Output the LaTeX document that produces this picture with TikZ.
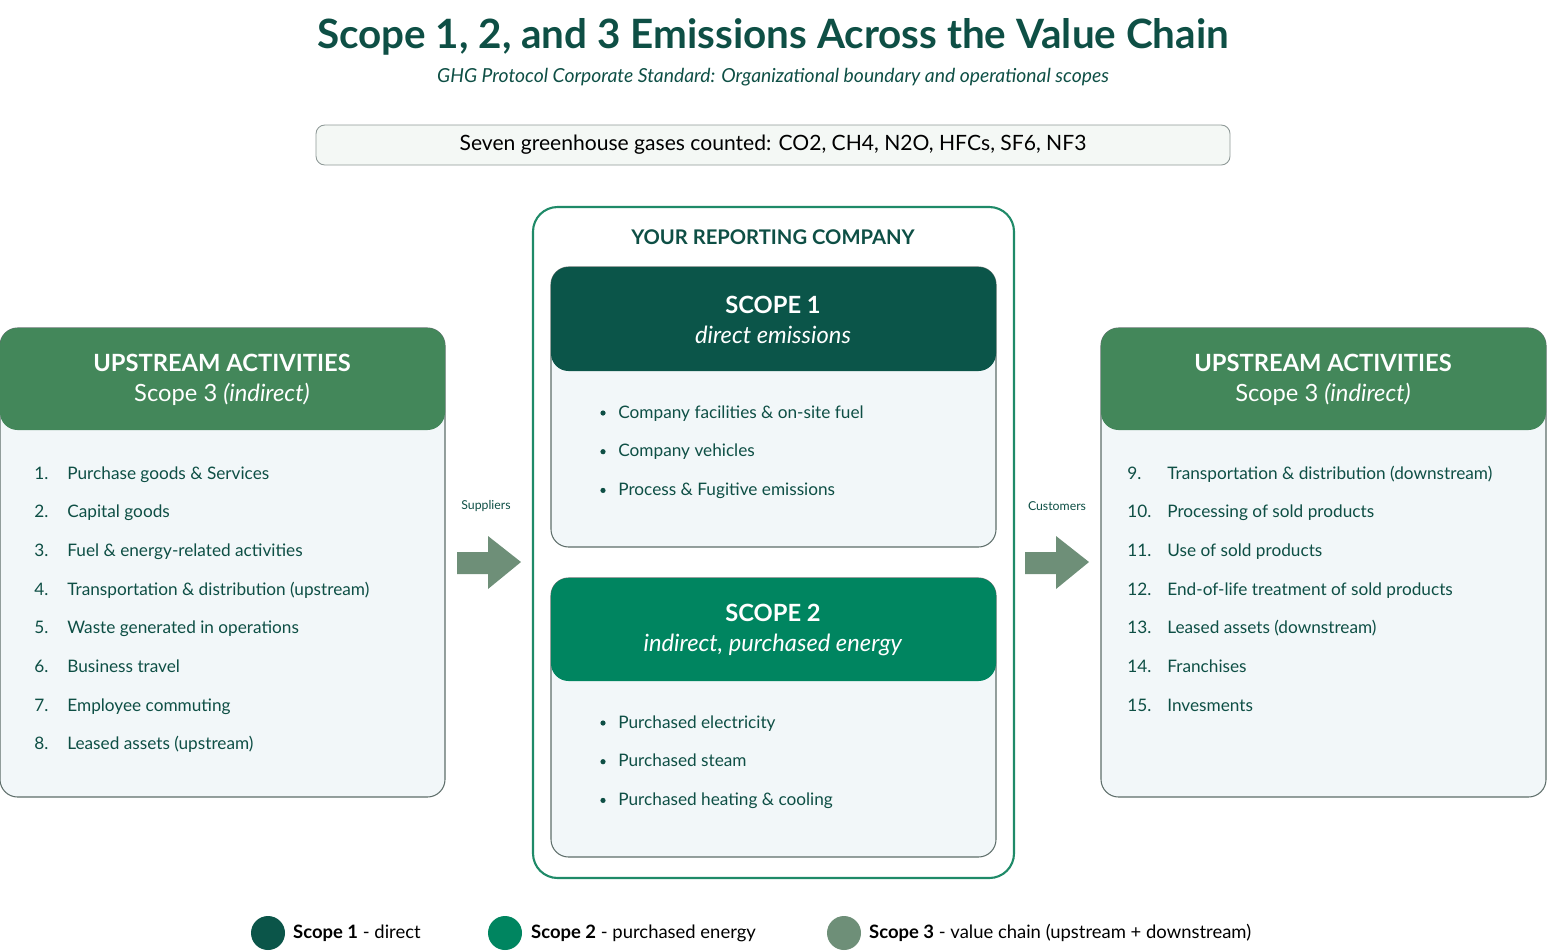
\documentclass[tikz,border=0pt]{standalone}
\usepackage{fontspec}
\setmainfont{Lato}
\usetikzlibrary{positioning,calc}
\definecolor{ink}{HTML}{0E4F45}
\definecolor{hdrthree}{HTML}{43875A}
\definecolor{hdrone}{HTML}{0B5549}
\definecolor{hdrtwo}{HTML}{008560}
\definecolor{arrowgreen}{HTML}{6E8F78}
\definecolor{panelfill}{HTML}{F2F7F9}
\definecolor{panelline}{HTML}{5E6E6A}
\definecolor{gasfill}{HTML}{F4F8F5}
\definecolor{outerline}{HTML}{1F8A68}
\tikzset{
  panel/.style={draw=panelline, fill=panelfill, rounded corners=10pt, line width=0.6pt},
  hdrtxt/.style={text=white, align=center, font=\fontsize{13.5}{17}\selectfont},
  item/.style={anchor=base west, text=ink, font=\fontsize{9.8}{12}\selectfont, inner sep=0pt},
  bigarrow/.style={fill=arrowgreen, draw=none},
  legtxt/.style={anchor=west, text=black, font=\fontsize{10.5}{12}\selectfont}
}
\begin{document}
\begin{tikzpicture}[x=0.02cm, y=-0.02cm]
	\useasboundingbox (0,0) rectangle (1547,951);
	% title block
	\node[text=ink, font=\bfseries\fontsize{23}{28}\selectfont] (title) at (773,37) {Scope 1, 2, and 3 Emissions Across the Value Chain};
	\node[text=ink, font=\itshape\fontsize{11}{13}\selectfont] (subtitle) at (773,77) {GHG Protocol Corporate Standard: Organizational boundary and operational scopes};
	\draw[draw=panelline!70, fill=gasfill, rounded corners=5pt, line width=0.5pt] (316,125) rectangle (1230,165);
	\node[text=black, font=\fontsize{12}{14}\selectfont] (gases) at (773,145) {Seven greenhouse gases counted: CO2, CH4, N2O, HFCs, SF6, NF3};

	% upstream panel
	\draw[panel] (0,328) rectangle (445,797);
	\fill[hdrthree, rounded corners=10pt] (0,430) -- (0,328) -- (445,328) -- (445,430) -- cycle;
	\node[hdrtxt] (uphdr) at (222,380) {\textbf{UPSTREAM ACTIVITIES}\\Scope 3 \textit{(indirect)}};
	\foreach \n/\t [count=\i from 0] in {1./Purchase goods \& Services, 2./Capital goods, 3./Fuel \& energy-related activities, 4./Transportation \& distribution (upstream), 5./Waste generated in operations, 6./Business travel, 7./Employee commuting, 8./Leased assets (upstream)} {
		\node[item] (upn\i) at (34,{479+38.7*\i}) {\n};
		\node[item] (up\i) at (67,{479+38.7*\i}) {\t};
	}

	% reporting company
	\draw[draw=outerline, line width=1.2pt, rounded corners=14pt] (533,207) rectangle (1014,878);
	\node[text=ink, font=\bfseries\fontsize{11.5}{14}\selectfont] (company) at (773,237) {YOUR REPORTING COMPANY};
	\draw[panel] (551,267) rectangle (996,547);
	\fill[hdrone, rounded corners=10pt] (551,371) -- (551,267) -- (996,267) -- (996,371) -- cycle;
	\node[hdrtxt] (sonehdr) at (773,320) {\textbf{SCOPE 1}\\\textit{direct emissions}};
	\foreach \t [count=\i from 0] in {Company facilities \& on-site fuel, Company vehicles, Process \& Fugitive emissions} {
		\node[item] (sone\i) at (618,{418+38.7*\i}) {\t};
		\fill[ink] (603,{413+38.7*\i}) circle (2.6);
	}
	\draw[panel] (551,578) rectangle (996,857);
	\fill[hdrtwo, rounded corners=10pt] (551,681) -- (551,578) -- (996,578) -- (996,681) -- cycle;
	\node[hdrtxt] (stwohdr) at (773,630) {\textbf{SCOPE 2}\\\textit{indirect, purchased energy}};
	\foreach \t [count=\i from 0] in {Purchased electricity, Purchased steam, Purchased heating \& cooling} {
		\node[item] (stwo\i) at (618,{728+38.7*\i}) {\t};
		\fill[ink] (603,{723+38.7*\i}) circle (2.6);
	}

	% downstream panel
	\draw[panel] (1101,328) rectangle (1546,797);
	\fill[hdrthree, rounded corners=10pt] (1101,430) -- (1101,328) -- (1546,328) -- (1546,430) -- cycle;
	\node[hdrtxt] (downhdr) at (1323,380) {\textbf{UPSTREAM ACTIVITIES}\\Scope 3 \textit{(indirect)}};
	\foreach \n/\t [count=\i from 0] in {9./Transportation \& distribution (downstream), 10./Processing of sold products, 11./Use of sold products, 12./End-of-life treatment of sold products, 13./Leased assets (downstream), 14./Franchises, 15./Invesments} {
		\node[item] (downn\i) at (1127,{479+38.7*\i}) {\n};
		\node[item] (down\i) at (1167,{479+38.7*\i}) {\t};
	}

	% flow arrows
	\node[text=ink, font=\fontsize{7}{8}\selectfont] (suppliers) at (486,506) {Suppliers};
	\fill[bigarrow] (457,552) -- (488,552) -- (488,536) -- (521,562) -- (488,589) -- (488,574) -- (457,574) -- cycle;
	\node[text=ink, font=\fontsize{7}{8}\selectfont] (customers) at (1057,506) {Customers};
	\fill[bigarrow] (1025,552) -- (1056,552) -- (1056,536) -- (1089,562) -- (1056,589) -- (1056,574) -- (1025,574) -- cycle;

	% legend
	\fill[hdrone] (268,933) circle (17);
	\node[legtxt] (legone) at (287,933) {\textbf{Scope 1} - direct};
	\fill[hdrtwo] (505,933) circle (17);
	\node[legtxt] (legtwo) at (525,933) {\textbf{Scope 2} - purchased energy};
	\fill[arrowgreen] (844,933) circle (17);
	\node[legtxt] (legthree) at (863,933) {\textbf{Scope 3} - value chain (upstream + downstream)};
\end{tikzpicture}
\end{document}
